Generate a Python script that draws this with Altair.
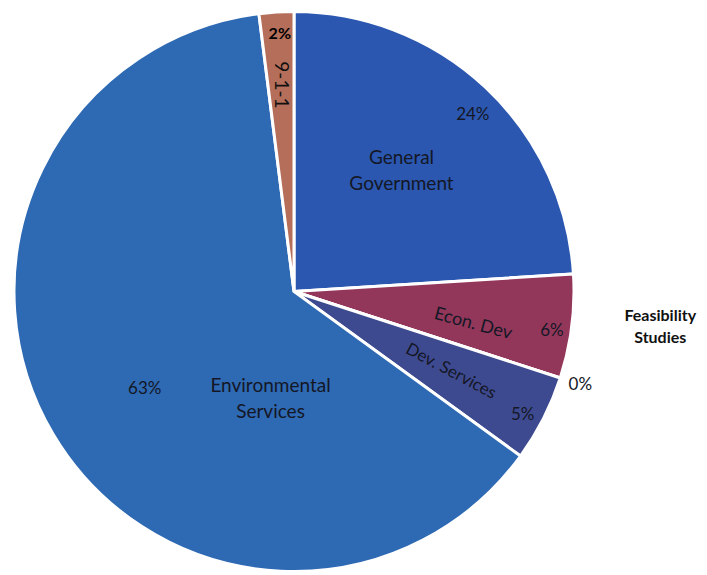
import altair as alt
import pandas as pd

categories = ["General Government", "Econ. Dev", "Feasibility Studies",
              "Dev. Services", "Environmental Services", "9-1-1"]
shares = [24, 6, 0, 5, 63, 2]
pct_labels = ["24%", "6%", "0%", "5%", "63%", "2%"]
name_labels = ["General\nGovernment", "Econ. Dev", "Feasibility\nStudies",
               "Dev. Services", "Environmental\nServices", "9-1-1"]
colors = ["#2B57B0", "#93375A", "#8A8A8A", "#3E4A90", "#2E69B3", "#B56E5A"]

df = pd.DataFrame({
    "category": categories,
    "share": shares,
    "pct": pct_labels,
    "name": name_labels,
    "order": list(range(len(categories))),
})

FONT = "Lato"
R = 280
theta_scale = alt.Scale(domain=[0, 100])

base = alt.Chart(df).transform_window(
    cum="sum(share)", sort=[alt.SortField("order")], frame=[None, 0]
).transform_calculate(
    start="datum.cum - datum.share",
    mid="datum.cum - datum.share / 2",
)

pie = base.mark_arc(outerRadius=R, stroke="white", strokeWidth=3).encode(
    theta=alt.Theta("start:Q", scale=theta_scale),
    theta2="cum:Q",
    color=alt.Color("category:N", scale=alt.Scale(domain=categories, range=colors), legend=None),
)


def label(cat, field, radius, size=17, weight="normal", angle=0, dx=0, dy=0, color="#141726"):
    kw = dict(radius=radius, font=FONT, fontSize=size, fontWeight=weight,
              lineBreak="\n", lineHeight=round(size * 1.35), color=color,
              align="center", baseline="middle", dx=dx, dy=dy)
    if angle:
        kw["angle"] = angle
    return base.transform_filter(alt.datum.category == cat).mark_text(**kw).encode(
        theta=alt.Theta("mid:Q", scale=theta_scale),
        text=alt.Text(f"{field}:N"),
    )


layers = [
    pie,
    label("General Government", "name", 160, size=19, dx=-2, dy=-17),
    label("General Government", "pct", 251, size=17, dx=7, dy=6),
    label("Econ. Dev", "name", 183, size=18, angle=15, dy=10),
    label("Econ. Dev", "pct", 260, size=17, dy=7),
    label("Feasibility Studies", "pct", 301, size=17),
    label("Feasibility Studies", "name", 301, size=16, weight="bold", dx=80, dy=-69, color="#111111"),
    label("Dev. Services", "name", 176, size=17, angle=28),
    label("Dev. Services", "pct", 260, size=17, dx=-3, dy=5),
    label("Environmental Services", "name", 97, size=19, dx=60, dy=45),
    label("Environmental Services", "pct", 178, size=17, dx=4, dy=7),
    label("9-1-1", "pct", 258, size=16, weight="bold", color="#000000", dx=2),
    label("9-1-1", "name", 207, size=19, angle=90, color="#111111"),
]

chart = alt.layer(*layers).properties(
    width=588,
    height=567,
    padding={"left": 0, "top": 8, "right": 119, "bottom": 0},
    autosize="none",
).configure_view(stroke=None)

chart.save("out.html", embed_options={"renderer": "svg", "actions": False})
